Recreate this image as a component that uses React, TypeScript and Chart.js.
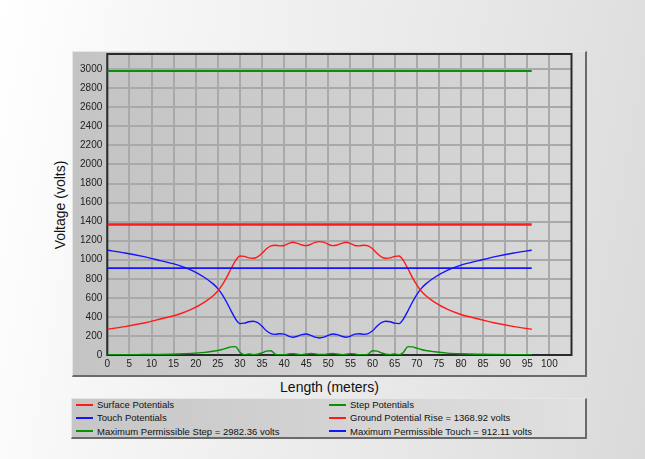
import React, { useEffect, useRef } from "react";
import { Chart, registerables } from "chart.js";
Chart.register(...registerables);

// ---- data ----
const lengthM = [
  0, 4, 8, 12, 16, 19, 22, 24, 25, 26, 27, 28, 29, 30, 31, 32, 33, 34, 35, 36, 37, 38, 39, 40, 41, 42, 43, 44, 45, 46, 47, 48,
  49, 50, 51, 52, 53, 54, 55, 56, 57, 58, 59, 60, 61, 62, 63, 64, 65, 66, 67, 68, 69, 70, 71, 72, 74, 77, 80, 84, 88, 92, 96,
];
const surfacePotentials = [
  270, 298, 333, 378, 425, 478, 555, 625, 672, 735, 815, 905, 990, 1040, 1035, 1020, 1015, 1030, 1068, 1115, 1145, 1152, 1146, 1150, 1170, 1183, 1172, 1155, 1148, 1162, 1182, 1190,
  1182, 1162, 1148, 1155, 1172, 1183, 1170, 1150, 1146, 1152, 1145, 1115, 1068, 1030, 1015, 1020, 1035, 1040, 990, 905, 815, 735, 672, 625, 555, 478, 425, 378, 333, 298, 270,
];
const touchPotentials = [
  1099, 1071, 1036, 991, 944, 891, 814, 744, 697, 634, 554, 464, 379, 329, 334, 349, 354, 339, 301, 254, 224, 217, 223, 219, 199, 186, 197, 214, 221, 207, 187, 179,
  187, 207, 221, 214, 197, 186, 199, 219, 223, 217, 224, 254, 301, 339, 354, 349, 334, 329, 379, 464, 554, 634, 697, 744, 814, 891, 944, 991, 1036, 1071, 1099,
];
const stepPotentials = [
  2, 3, 5, 7, 11, 17, 28, 40, 47, 58, 72, 85, 88, 30, 2, 12, 3, 8, 22, 40, 45, 10, 3, 2, 12, 14, 8, 4, 10, 15, 12, 5,
  5, 12, 15, 10, 4, 8, 14, 12, 2, 3, 10, 45, 40, 22, 8, 3, 12, 2, 30, 88, 85, 72, 58, 47, 34, 20, 13, 8, 5, 3, 2,
];
const groundPotentialRise = 1368.92;
const maxPermissibleStep = 2982.36;
const maxPermissibleTouch = 912.11;
const lineStart = 0;
const lineEnd = 96;
const xTickValues = [0, 5, 10, 15, 20, 25, 30, 35, 40, 45, 50, 55, 60, 65, 70, 75, 80, 85, 90, 95, 100];
const yTickValues = [0, 200, 400, 600, 800, 1000, 1200, 1400, 1600, 1800, 2000, 2200, 2400, 2600, 2800, 3000];

const RED = "#ff1a1a";
const BLUE = "#1414ff";
const GREEN = "#089008";

const pts = (ys: number[]) => lengthM.map((x, i) => ({ x, y: ys[i] }));
const flat = (v: number) => [
  { x: lineStart, y: v },
  { x: lineEnd, y: v },
];

const legendItems = [
  { label: "Surface Potentials", color: RED },
  { label: "Step Potentials", color: GREEN },
  { label: "Touch Potentials", color: BLUE },
  { label: `Ground Potential Rise = ${groundPotentialRise} volts`, color: RED },
  { label: `Maximum Permissible Step = ${maxPermissibleStep} volts`, color: GREEN },
  { label: `Maximum Permissible Touch = ${maxPermissibleTouch} volts`, color: BLUE },
];

const FONT = "'Liberation Sans', Arial, sans-serif";

export default function App() {
  const ref = useRef<HTMLCanvasElement | null>(null);

  useEffect(() => {
    if (!ref.current) return;
    const bgPlugin = {
      id: "plotbg",
      beforeDraw(chart: any) {
        const { ctx, chartArea: a } = chart;
        ctx.save();
        const g = ctx.createLinearGradient(a.left, 0, a.right, 0);
        g.addColorStop(0, "#c4c4c4");
        g.addColorStop(1, "#d9d9d9");
        ctx.fillStyle = g;
        ctx.fillRect(a.left, a.top, a.right - a.left, a.bottom - a.top);
        ctx.restore();
      },
      beforeDatasetsDraw(chart: any) {
        const { ctx, chartArea: a } = chart;
        ctx.save();
        ctx.strokeStyle = "#2a2a2a";
        ctx.lineWidth = 2;
        ctx.strokeRect(a.left, a.top, a.right - a.left, a.bottom - a.top);
        ctx.restore();
      },
    };
    const curve = (label: string, data: any, color: string) => ({
      label,
      data,
      borderColor: color,
      backgroundColor: color,
      borderWidth: 1.4,
      pointRadius: 0,
      fill: false,
      cubicInterpolationMode: "monotone" as const,
    });
    const hline = (label: string, v: number, color: string, w: number) => ({
      label,
      data: flat(v),
      borderColor: color,
      backgroundColor: color,
      borderWidth: w,
      pointRadius: 0,
      fill: false,
    });
    const tickFont = { family: FONT, size: 10 };
    const fmt = (v: any) => String(v);
    const chart = new Chart(ref.current, {
      type: "line",
      data: {
        datasets: [
          hline(legendItems[4].label, maxPermissibleStep, GREEN, 2),
          hline(legendItems[3].label, groundPotentialRise, RED, 2.5),
          hline(legendItems[5].label, maxPermissibleTouch, BLUE, 1.8),
          curve(legendItems[0].label, pts(surfacePotentials), RED),
          curve(legendItems[2].label, pts(touchPotentials), BLUE),
          curve(legendItems[1].label, pts(stepPotentials), GREEN),
        ],
      },
      options: {
        animation: false,
        responsive: false,
        maintainAspectRatio: false,
        layout: { padding: { left: 72, top: 54, right: 73.5, bottom: 83 } },
        plugins: { legend: { display: false }, tooltip: { enabled: false } },
        scales: {
          x: {
            type: "linear",
            min: 0,
            max: 105,
            ticks: { color: "#222", font: tickFont, padding: 3, maxRotation: 0, autoSkip: false, callback: fmt },
            grid: { color: "#a9a9a9", lineWidth: 2, drawTicks: false },
            border: { display: false },
            afterFit: (s: any) => {
              s.height = 21;
            },
            afterBuildTicks: (s: any) => {
              s.ticks = xTickValues.map((value) => ({ value }));
            },
          },
          y: {
            type: "linear",
            min: 0,
            max: 3160,
            ticks: { color: "#222", font: tickFont, padding: 5, autoSkip: false, callback: fmt },
            grid: { color: "#a9a9a9", lineWidth: 2, drawTicks: false },
            border: { display: false },
            afterFit: (s: any) => {
              s.width = 35.3;
            },
            afterBuildTicks: (s: any) => {
              s.ticks = yTickValues.map((value) => ({ value }));
            },
          },
        },
      },
      plugins: [bgPlugin],
    });
    return () => chart.destroy();
  }, []);

  const box = (left: number, top: number, width: number, height: number, extra: any = {}) => ({
    position: "absolute" as const,
    left,
    top,
    width,
    height,
    boxSizing: "border-box" as const,
    borderTop: "1px solid #e6e6e6",
    borderLeft: "1px solid #e6e6e6",
    borderRight: "2px solid #6a6a6a",
    borderBottom: "2px solid #6a6a6a",
    ...extra,
  });

  return (
    <div
      style={{
        position: "absolute",
        left: 0,
        top: 0,
        width: 645,
        height: 459,
        overflow: "hidden",
        background: "linear-gradient(100deg, #ffffff 0%, #f5f5f5 25%, #e6e6e6 70%, #dadada 100%)",
        fontFamily: FONT,
      }}
    >
      <div style={box(72, 51, 515, 326, { background: "linear-gradient(to right, #c4c4c4, #dfdfdf)" })} />
      <div style={box(71, 398, 516, 41, { background: "linear-gradient(to right, #c6c6c6, #e0e0e0)" })}>
        {legendItems.map((it, i) => {
          const col = i % 2;
          const row = Math.floor(i / 2);
          const left = col === 0 ? 4 : 257;
          return (
            <div
              key={i}
              style={{
                position: "absolute",
                left,
                top: 5.5 + row * 13.3 - 6,
                height: 12,
                display: "flex",
                alignItems: "center",
                whiteSpace: "nowrap",
                fontSize: 9.5,
                color: "#111",
              }}
            >
              <span style={{ display: "inline-block", width: 17, height: 2, background: it.color, marginRight: 4 }} />
              <span>{it.label}</span>
            </div>
          );
        })}
      </div>
      <div
        style={{
          position: "absolute",
          left: 72,
          width: 515,
          top: 379,
          textAlign: "center",
          fontSize: 14,
          color: "#111",
          lineHeight: "16px",
        }}
      >
        Length (meters)
      </div>
      <div
        style={{
          position: "absolute",
          left: 60 - 100,
          top: 205 - 8,
          width: 200,
          height: 16,
          lineHeight: "16px",
          textAlign: "center",
          fontSize: 14,
          color: "#111",
          transform: "rotate(-90deg)",
        }}
      >
        Voltage (volts)
      </div>
      <canvas ref={ref} width={645} height={459} style={{ position: "absolute", left: 0, top: 0, width: 645, height: 459 }} />
    </div>
  );
}
